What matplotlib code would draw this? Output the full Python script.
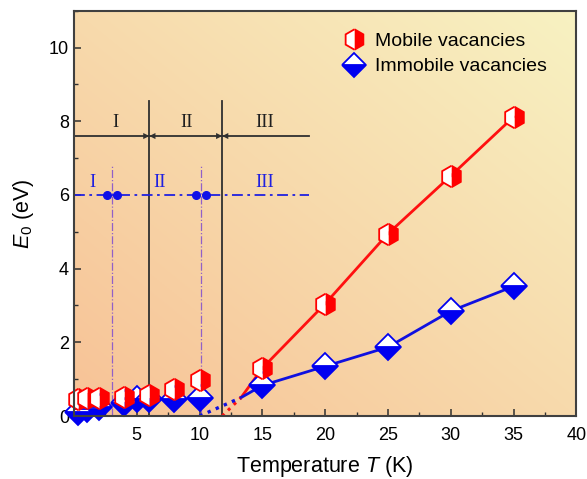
import numpy as np
import matplotlib
matplotlib.use('Agg')
import matplotlib.pyplot as plt
from matplotlib.ticker import MultipleLocator

plt.rcParams['font.family'] = ['Liberation Sans', 'DejaVu Sans']
plt.rcParams['mathtext.fontset'] = 'custom'
plt.rcParams['mathtext.rm'] = 'Liberation Sans'
plt.rcParams['mathtext.it'] = 'Liberation Sans:italic'

# data
T_mob = [0.3, 1, 2, 4, 6, 8, 10, 15, 20, 25, 30, 35]
E_mob = [0.45, 0.48, 0.48, 0.52, 0.57, 0.73, 0.97, 1.3, 3.05, 4.95, 6.52, 8.12]
T_imm = [0.3, 1, 2, 4, 5, 6, 8, 10, 15, 20, 25, 30, 35]
E_imm = [0.12, 0.18, 0.25, 0.35, 0.45, 0.45, 0.46, 0.5, 0.83, 1.35, 1.87, 2.85, 3.52]

# fit lines (solid part and dotted extrapolation)
fit_mob_T = [13.3, 15, 20, 25, 30, 35]
fit_mob_E = [0.5, 1.3, 3.05, 4.95, 6.52, 8.12]
fit_imm_T = [13.3, 15, 20, 25, 30, 35]
fit_imm_E = [0.5, 0.83, 1.35, 1.87, 2.85, 3.52]
ext_mob_T = [11.8, 13.3]
ext_mob_E = [0, 0.5]
ext_imm_T = [10, 13.3]
ext_imm_E = [0, 0.5]

# region boundaries
bound_black = [6, 11.8]
bound_blue = [3.05, 10.1]
labels_black = ['I', 'II', 'III']
labels_black_T = [3.3, 9.0, 15.2]
labels_blue = ['I', 'II', 'III']
labels_blue_T = [1.5, 6.8, 15.2]

fig = plt.figure(figsize=(5.87, 4.79), dpi=100)
ax = fig.add_axes([0.126, 0.1315, 0.856, 0.846])
ax.set_xlim(0, 40)
ax.set_ylim(0, 11)

# gradient background
c0 = np.array([0xF7, 0xC2, 0x96]) / 255
c1 = np.array([0xF8, 0xF2, 0xC2]) / 255
u, v = np.meshgrid(np.linspace(0, 1, 200), np.linspace(0, 1, 200))
t = (u + v) / 2
img = c0[None, None, :] * (1 - t[..., None]) + c1[None, None, :] * t[..., None]
ax.imshow(img, extent=[0, 40, 0, 11], origin='lower', aspect='auto', zorder=0)

# black region lines
for b in bound_black:
    ax.plot([b, b], [0, 8.55], color='#303030', lw=1.3, zorder=2)
ax.plot([0, 18.7], [7.6, 7.6], color='#303030', lw=1.3, zorder=2)
for b in bound_black:
    for d in (-1, 1):
        ax.annotate('', xy=(b, 7.6), xytext=(b + d * 1.2, 7.6),
                    arrowprops=dict(arrowstyle='-|>', color='#303030', lw=0,
                                    shrinkA=0, shrinkB=0, mutation_scale=11),
                    zorder=3)
for lab, x in zip(labels_black, labels_black_T):
    ax.text(x, 7.75, lab, ha='center', va='bottom', fontsize=13.5,
            family='Liberation Serif', color='#202020')

# blue region lines
for b in bound_blue:
    ax.plot([b, b], [0, 6.8], color='#9060C8', lw=0.9, ls='-.', zorder=2)
ax.plot([0, 18.7], [6, 6], color='#2020E0', lw=1.3, ls=(0, (6, 2.5, 1.5, 2.5)),
        zorder=2)
for b in bound_blue:
    ax.plot([b - 0.4, b + 0.4], [6, 6], 'o', color='#1010E8', ms=5.5, zorder=3)
for lab, x in zip(labels_blue, labels_blue_T):
    ax.text(x, 6.12, lab, ha='center', va='bottom', fontsize=13.5,
            family='Liberation Serif', color='#2020E0')

# fit lines
ax.plot(fit_mob_T, fit_mob_E, color='#FF1010', lw=2, zorder=4)
ax.plot(fit_imm_T, fit_imm_E, color='#1010E0', lw=2, zorder=4)
ax.plot(ext_mob_T, ext_mob_E, color='#FF1010', lw=2.2, ls=':', zorder=4)
ax.plot(ext_imm_T, ext_imm_E, color='#1010E0', lw=2.4, ls=':', zorder=4)

# markers
ax.plot(T_imm, E_imm, ls='none', marker='D', ms=13, fillstyle='bottom',
        mfc='#0000F0', mfcalt='white', mec='#0000F0', mew=1.3, zorder=5,
        label='Immobile vacancies', clip_on=False)
ax.plot(T_mob, E_mob, ls='none', marker='h', ms=15.5, fillstyle='right',
        mfc='#FF0000', mfcalt='white', mec='#FF0000', mew=1.3, zorder=6,
        label='Mobile vacancies', clip_on=False)

handles, labels = ax.get_legend_handles_labels()
leg = ax.legend(handles[::-1], labels[::-1], loc='upper left',
                bbox_to_anchor=(0.5, 0.99), frameon=False, fontsize=14,
                handlelength=1.2, handletextpad=0.45, labelspacing=0.4,
                markerscale=0.95)

ax.set_xticks(range(0, 41, 5))
ax.set_xticklabels([''] + [str(v) for v in range(5, 41, 5)])
ax.xaxis.set_minor_locator(MultipleLocator(2.5))
ax.set_yticks(range(0, 11, 2))
ax.yaxis.set_minor_locator(MultipleLocator(1))
ax.tick_params(which='both', direction='in', labelsize=13, color='#303030')
ax.tick_params(which='major', length=5, width=1.1)
ax.tick_params(which='minor', length=3, width=1.0)
ax.tick_params(axis='x', pad=8)
for s in ax.spines.values():
    s.set_color('#404040')
    s.set_linewidth(1.5)
    s.set_zorder(7)

ax.set_xlabel('Temperature $T$ (K)', fontsize=15.5, labelpad=7)
ax.set_ylabel('$E_0$ (eV)', fontsize=15.5, labelpad=9)

fig.savefig('out.png', dpi=100)
